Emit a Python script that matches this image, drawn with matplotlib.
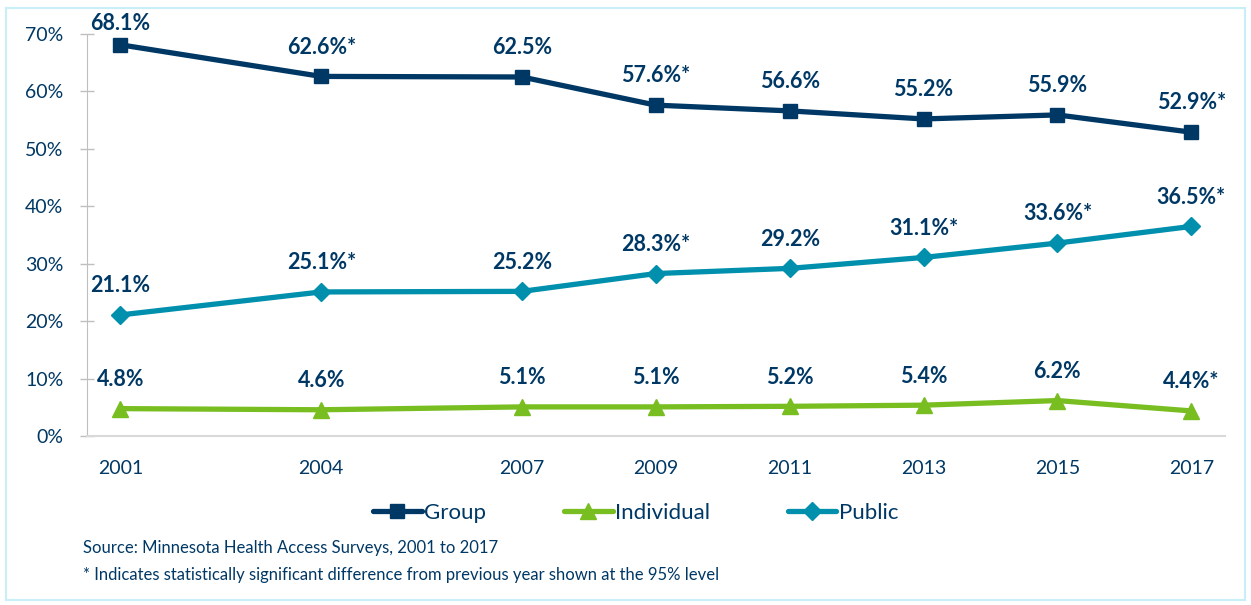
import numpy as np
import matplotlib.pyplot as plt
from matplotlib.patches import Rectangle

plt.rcParams['font.family'] = ['Lato', 'DejaVu Sans']

years = [2001, 2004, 2007, 2009, 2011, 2013, 2015, 2017]
group = [68.1, 62.6, 62.5, 57.6, 56.6, 55.2, 55.9, 52.9]
group_sig = [False, True, False, True, False, False, False, True]
individual = [4.8, 4.6, 5.1, 5.1, 5.2, 5.4, 6.2, 4.4]
individual_sig = [False, False, False, False, False, False, False, True]
public = [21.1, 25.1, 25.2, 28.3, 29.2, 31.1, 33.6, 36.5]
public_sig = [False, True, False, True, False, True, True, True]

navy = '#003865'
green = '#78BE21'
teal = '#0090AD'
grey = '#BFBFBF'

fig = plt.figure(figsize=(12.51, 6.05), dpi=100)
fig.patches.append(Rectangle((0.005, 0.008), 0.99, 0.978, transform=fig.transFigure,
                             fill=False, edgecolor='#C8EEF8', linewidth=1.5))
ax = fig.add_axes([0.0695, 0.279, 0.9095, 0.665])

series = [
    ('Group', group, group_sig, navy, 's', 10.5),
    ('Individual', individual, individual_sig, green, '^', 11.5),
    ('Public', public, public_sig, teal, 'D', 9.5),
]
for name, vals, sig, col, mk, ms in series:
    ax.plot(years, vals, color=col, lw=3.8, marker=mk, ms=ms, label=name,
            solid_capstyle='round', clip_on=False, zorder=3)
    for x, v, s in zip(years, vals, sig):
        txt = f'{v:.1f}%' + ('*' if s else '')
        off = 15 if v > 66 else 21
        ax.annotate(txt, (x, v), xytext=(0, off), textcoords='offset points',
                    ha='center', va='center', fontsize=15.5, fontweight='bold',
                    color=navy, annotation_clip=False)

ax.set_xlim(2000.5, 2017.5)
ax.set_ylim(0, 70)
ax.set_xticks(years)
ax.set_xticklabels([str(y) for y in years])
ax.set_yticks(np.arange(0, 71, 10))
ax.set_yticklabels([f'{t}%' for t in range(0, 71, 10)])
ax.tick_params(axis='x', length=0, pad=17, labelsize=14, labelcolor=navy)
ax.tick_params(axis='y', direction='inout', length=10, width=1, color=grey,
               pad=12, labelsize=14, labelcolor=navy)
for sp in ['top', 'right']:
    ax.spines[sp].set_visible(False)
ax.spines['left'].set_color(grey)
ax.spines['bottom'].set_color('#D9D9D9')
ax.spines['bottom'].set_linewidth(1.5)

fig.legend(loc='center', bbox_to_anchor=(0.508, 0.152), ncol=3, frameon=False,
           fontsize=16, labelcolor=navy, handlelength=2.2, handletextpad=0.1,
           columnspacing=3.5)

fig.text(0.066, 0.094, 'Source: Minnesota Health Access Surveys, 2001 to 2017',
         fontsize=12, color=navy, va='center')
fig.text(0.066, 0.049, '* Indicates statistically significant difference from previous year shown at the 95% level',
         fontsize=12, color=navy, va='center')

fig.savefig('out.png', dpi=100)
